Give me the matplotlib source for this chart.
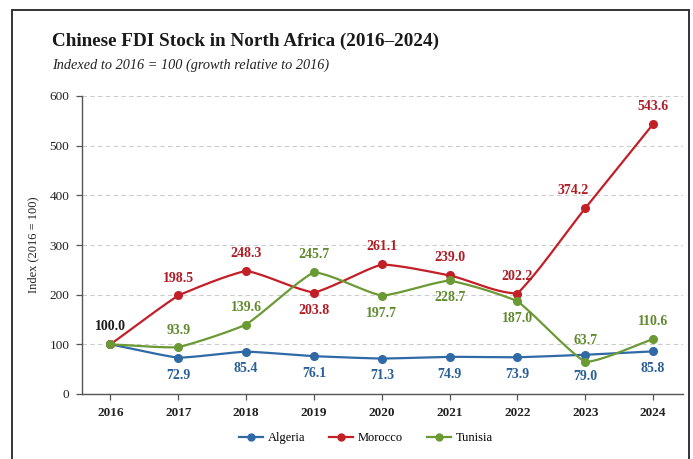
import numpy as np
import matplotlib
matplotlib.use("Agg")
import matplotlib.pyplot as plt
from matplotlib.patches import Rectangle
from matplotlib.lines import Line2D

years = [2016, 2017, 2018, 2019, 2020, 2021, 2022, 2023, 2024]
algeria = [100.0, 72.9, 85.4, 76.1, 71.3, 74.9, 73.9, 79.0, 85.8]
morocco = [100.0, 198.5, 248.3, 203.8, 261.1, 239.0, 202.2, 374.2, 543.6]
tunisia = [100.0, 93.9, 139.6, 245.7, 197.7, 228.7, 187.0, 63.7, 110.6]
series_names = ["Algeria", "Morocco", "Tunisia"]
y_ticks = [0, 100, 200, 300, 400, 500, 600]

# label placement (+1 above, -1 below, 0 none)
alg_pos = [0, -1, -1, -1, -1, -1, -1, -1, -1]
mor_pos = [0, 1, 1, -1, 1, 1, 1, 1, 1]
tun_pos = [0, 1, 1, 1, -1, -1, -1, 1, 1]

colors = {"Algeria": "#2f6aa6", "Morocco": "#c21f27", "Tunisia": "#6b9a35"}
text_colors = {"Algeria": "#2a5f96", "Morocco": "#b01c25", "Tunisia": "#5f8a2e"}

SERIF = ["Liberation Serif", "DejaVu Serif"]
plt.rcParams["font.family"] = SERIF

W, H = 693, 459
fig = plt.figure(figsize=(W / 100, H / 100), dpi=100)
fig.patch.set_facecolor("white")

ax = fig.add_axes([82 / W, 1 - 394 / H, (683 - 82) / W, (394 - 96) / H])


def smooth(x, y, w=0.3, n=30):
    """Hermite curve whose tangents blend Catmull-Rom slopes (weight w) with chord slopes."""
    x = np.asarray(x, float)
    y = np.asarray(y, float)
    cr = np.zeros_like(y)
    cr[1:-1] = (y[2:] - y[:-2]) / (x[2:] - x[:-2])
    cr[0] = (y[1] - y[0]) / (x[1] - x[0])
    cr[-1] = (y[-1] - y[-2]) / (x[-1] - x[-2])
    xs, ys = [], []
    for i in range(len(x) - 1):
        h = x[i + 1] - x[i]
        chord = (y[i + 1] - y[i]) / h
        mi = w * cr[i] + (1 - w) * chord
        mj = w * cr[i + 1] + (1 - w) * chord
        t = np.linspace(0, 1, n)
        h00 = 2 * t**3 - 3 * t**2 + 1
        h10 = t**3 - 2 * t**2 + t
        h01 = -2 * t**3 + 3 * t**2
        h11 = t**3 - t**2
        xs.append(x[i] + t * h)
        ys.append(h00 * y[i] + h10 * h * mi + h01 * y[i + 1] + h11 * h * mj)
    return np.concatenate(xs), np.concatenate(ys)


data = {"Algeria": algeria, "Morocco": morocco, "Tunisia": tunisia}
positions = {"Algeria": alg_pos, "Morocco": mor_pos, "Tunisia": tun_pos}

for name in series_names:
    vals = data[name]
    sx, sy = smooth(years, vals)
    ax.plot(sx, sy, color=colors[name], lw=1.6, zorder=3, solid_capstyle="round")
    ax.plot(years, vals, "o", color=colors[name], ms=5.5, zorder=4)
    for i, (xv, yv, p) in enumerate(zip(years, vals, positions[name])):
        if p == 0:
            continue
        dx = 0
        dy = 12.5 * p
        if name == "Morocco" and i == 7:
            dx = -9
        if i == 7 and name in ("Algeria", "Tunisia"):
            dy = 15.5 * p
        ax.annotate(f"{yv:.1f}", (xv, yv), xytext=(dx, dy), textcoords="offset points",
                    ha="center", va="center", fontsize=10, fontweight="bold",
                    color=text_colors[name], zorder=5)

ax.annotate("100.0", (years[0], 100.0), xytext=(0, 13), textcoords="offset points",
            ha="center", va="center", fontsize=10, fontweight="bold", color="#1a1a1a")

ax.set_xlim(years[0] - 0.42, years[-1] + 0.44)
ax.set_ylim(0, 600)
ax.set_yticks(y_ticks)
ax.set_xticks(years)
ax.set_xticklabels([str(y) for y in years], fontweight="bold")
ax.tick_params(axis="both", labelsize=9.5, colors="#222222", length=4, width=0.9)
ax.tick_params(axis="x", pad=5, color="#555555")
ax.tick_params(axis="y", pad=5, color="#555555")
for sp in ["top", "right"]:
    ax.spines[sp].set_visible(False)
for sp in ["left", "bottom"]:
    ax.spines[sp].set_color("#555555")
    ax.spines[sp].set_linewidth(1.0)
ax.yaxis.grid(True, color="#cccccc", ls=(0, (4, 3)), lw=0.8)
ax.set_axisbelow(True)
ax.set_ylabel("Index (2016 = 100)", fontsize=9, color="#222222", labelpad=7)

fig.text(52 / W, 1 - 41 / H, "Chinese FDI Stock in North Africa (2016\u20132024)",
         fontsize=13.8, fontweight="bold", ha="left", va="center", color="#1a1a1a")
fig.text(52 / W, 1 - 65 / H, "Indexed to 2016 = 100 (growth relative to 2016)",
         fontsize=10.3, style="italic", ha="left", va="center", color="#222222")

handles = [Line2D([0], [0], color=colors[n], marker="o", ms=5, lw=1.6) for n in series_names]
fig.legend(handles, series_names, loc="center", bbox_to_anchor=(366 / W, 1 - 438 / H),
           ncol=3, frameon=False, fontsize=9, handlelength=1.9, columnspacing=1.9,
           handletextpad=0.4)

fig.patches.append(Rectangle((12 / W, -0.05), (689 - 12) / W, 1.05 - 10 / H,
                             transform=fig.transFigure, fill=False, ec="#333333",
                             lw=1.4, zorder=10))

fig.savefig("out.png", dpi=100)
